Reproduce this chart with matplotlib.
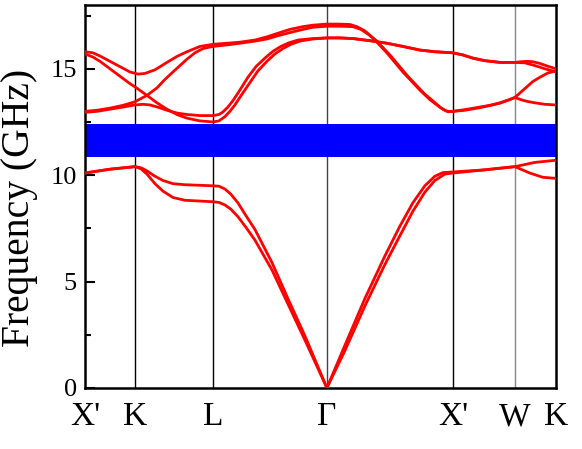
import matplotlib
matplotlib.use('Agg')
import matplotlib.pyplot as plt
from matplotlib.ticker import MultipleLocator

plt.rcParams['font.family'] = ['Liberation Serif', 'DejaVu Serif']

# high-symmetry points along the k-path
k_ticks = [0, 50, 128, 242, 368, 430, 471]
k_labels = ["X'", 'K', 'L', 'Γ', "X'", 'W', 'K']
line_colors = ['black', 'black', '#444444', 'black', '#888888']

# complete band gap (GHz)
gap_lo = 10.85
gap_hi = 12.4

# lower two bands
band1_k = [0, 25, 50, 56, 62, 70, 78, 88, 100, 128,
           134, 140, 146, 153, 161, 170, 187, 203, 220, 242,
           260, 280, 300, 315, 328, 340, 350, 358, 368,
           400, 430, 450, 471]
band1_f = [10.1, 10.28, 10.4, 10.35, 10.2, 9.95, 9.75, 9.6, 9.55, 9.5,
           9.48, 9.35, 9.1, 8.7, 8.1, 7.45, 5.9, 4.2, 2.45, 0,
           2.0, 4.2, 6.2, 7.6, 8.7, 9.5, 9.95, 10.12, 10.15,
           10.25, 10.4, 10.6, 10.7]

band2_k = [0, 25, 50, 56, 62, 70, 78, 88, 100, 128,
           134, 140, 146, 153, 161, 170, 187, 203, 220, 242,
           260, 280, 300, 315, 328, 340, 350, 360, 368,
           400, 430, 445, 458, 471]
band2_f = [10.1, 10.28, 10.4, 10.3, 10.05, 9.6, 9.25, 8.95, 8.82, 8.75,
           8.72, 8.6, 8.4, 8.05, 7.55, 6.95, 5.55, 3.95, 2.25, 0,
           1.75, 3.85, 5.8, 7.15, 8.3, 9.2, 9.75, 10.05, 10.1,
           10.25, 10.4, 10.1, 9.9, 9.85]

# upper four bands
band3_k = [0, 8, 15, 25, 35, 45, 53, 60, 70, 82, 92, 102, 115, 128,
           142, 155, 170, 182, 195, 205, 218, 228, 242,
           255, 265, 272, 280, 288, 295, 302, 318, 335, 345, 352, 358, 362, 368,
           380, 395, 405, 415, 425, 430, 436, 442, 448, 455, 463, 471]
band3_f = [15.8, 15.75, 15.6, 15.35, 15.1, 14.85, 14.75, 14.78, 14.95, 15.3, 15.58, 15.8, 16.05, 16.15,
           16.2, 16.25, 16.35, 16.5, 16.7, 16.85, 16.98, 17.05, 17.1,
           17.1, 17.08, 16.98, 16.78, 16.45, 16.1, 15.75, 14.85, 14.0, 13.55, 13.3, 13.1, 13.0, 13.0,
           13.08, 13.2, 13.28, 13.4, 13.55, 13.65, 13.9, 14.15, 14.4, 14.6, 14.8, 14.9]

band4_k = [0, 12, 25, 38, 50, 62, 72, 80, 88, 95, 102, 110, 118, 128,
           142, 155, 170, 182, 195, 205, 218, 228, 242,
           255, 268, 276, 284, 292, 299, 306, 322, 339, 349, 355, 360, 364, 368,
           380, 395, 415, 430, 436, 442, 450, 460, 471]
band4_f = [13.0, 13.05, 13.15, 13.28, 13.45, 13.75, 14.1, 14.5, 14.85, 15.15, 15.45, 15.75, 15.95, 16.05,
           16.12, 16.2, 16.3, 16.4, 16.58, 16.7, 16.85, 16.95, 17.0,
           17.0, 16.98, 16.85, 16.6, 16.3, 15.95, 15.6, 14.7, 13.85, 13.45, 13.2, 13.05, 12.98, 13.0,
           13.05, 13.17, 13.38, 13.65, 13.55, 13.47, 13.4, 13.33, 13.3]

band5_k = [0, 8, 15, 25, 35, 45, 50, 62, 72, 82, 92, 102, 115, 128,
           134, 140, 145, 150, 157, 165, 173, 182, 190, 198, 206, 215, 228, 242,
           255, 268, 285, 302, 318, 335, 350, 368,
           378, 388, 400, 415, 430, 436, 442, 448, 455, 463, 471]
band5_f = [15.7, 15.55, 15.35, 15.0, 14.65, 14.3, 14.15, 13.75, 13.4, 13.1, 12.85, 12.68, 12.55, 12.5,
           12.55, 12.75, 13.0, 13.3, 13.8, 14.35, 14.9, 15.35, 15.7, 15.95, 16.15, 16.3, 16.4, 16.45,
           16.45, 16.42, 16.32, 16.2, 16.05, 15.88, 15.8, 15.75,
           15.65, 15.5, 15.38, 15.3, 15.3, 15.33, 15.35, 15.33, 15.25, 15.12, 15.0]

band6_k = [0, 12, 25, 38, 50, 58, 65, 74, 82, 92, 102, 115, 128,
           134, 138, 143, 148, 155, 163, 171, 180, 188, 196, 204, 213, 228, 242,
           255, 268, 285, 302, 318, 335, 350, 368,
           378, 388, 400, 415, 430, 440, 450, 460, 471]
band6_f = [12.95, 13.0, 13.1, 13.2, 13.3, 13.33, 13.3, 13.18, 13.05, 12.92, 12.85, 12.8, 12.8,
           12.85, 12.97, 13.2, 13.5, 14.0, 14.6, 15.1, 15.5, 15.82, 16.05, 16.22, 16.35, 16.42, 16.45,
           16.45, 16.42, 16.32, 16.2, 16.05, 15.88, 15.8, 15.75,
           15.65, 15.5, 15.38, 15.3, 15.3, 15.28, 15.15, 15.0, 14.85]

bands = [(band1_k, band1_f), (band2_k, band2_f), (band3_k, band3_f),
         (band4_k, band4_f), (band5_k, band5_f), (band6_k, band6_f)]

fig = plt.figure(figsize=(5.82, 4.49), dpi=100)
ax = fig.add_axes([0.146, 0.136, 0.809, 0.853])

for k, c in zip(k_ticks[1:-1], line_colors):
    ax.axvline(k, color=c, lw=1.0, zorder=1)

ax.axhspan(gap_lo, gap_hi, color='#0000ff', lw=0, zorder=2)

for k, f in bands:
    ax.plot(k, f, color='#ff0000', lw=2.0, zorder=3,
            solid_joinstyle='round', solid_capstyle='round')

ax.set_xlim(k_ticks[0], k_ticks[-1])
ax.set_ylim(0, 18)

ax.set_xticks(k_ticks)
ax.set_xticklabels(k_labels)
ax.tick_params(axis='x', length=0, pad=10, labelsize=24)

ax.yaxis.set_major_locator(MultipleLocator(5))
ax.yaxis.set_minor_locator(MultipleLocator(2.5))
ax.tick_params(axis='y', which='major', direction='in', length=7, width=1.5,
               labelsize=19, pad=6)
ax.tick_params(axis='y', which='minor', direction='in', length=4, width=1.5)

for s in ax.spines.values():
    s.set_linewidth(1.8)

ax.set_ylabel('Frequency (GHz)', fontsize=28.5)
ax.yaxis.set_label_coords(-0.1, 0.47)

fig.savefig('out.png', dpi=100)
